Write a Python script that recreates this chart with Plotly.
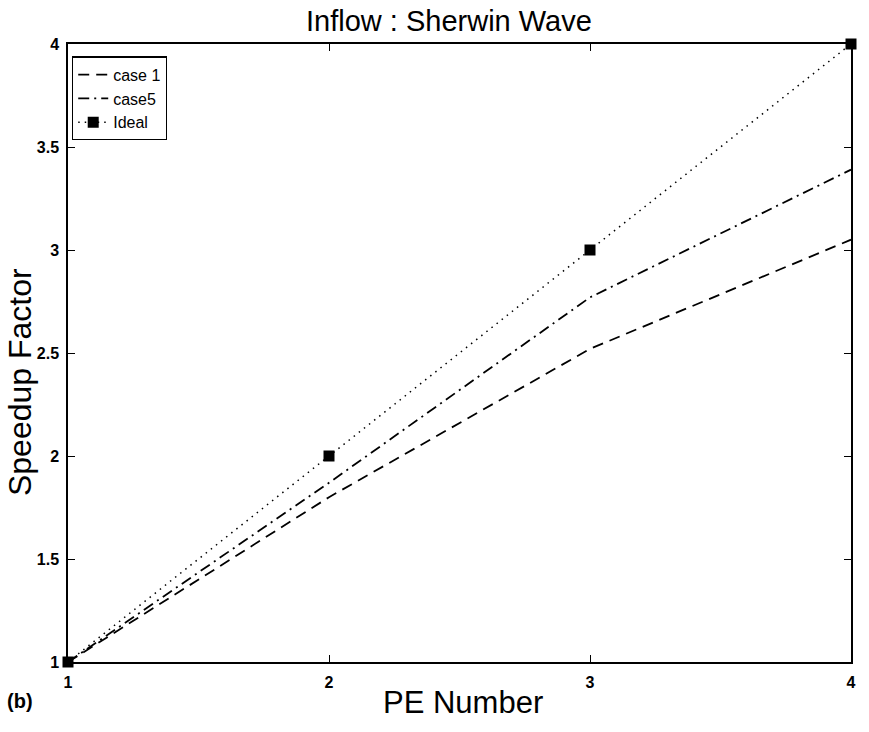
import plotly.graph_objects as go

pe = [1, 2, 3, 4]
case1 = [1.0, 1.80, 2.52, 3.05]
case5 = [1.0, 1.87, 2.77, 3.39]
ideal = [1, 2, 3, 4]

x_ticks = [1, 2, 3, 4]
y_ticks = [1, 1.5, 2, 2.5, 3, 3.5, 4]
y_ticktext = ["1", "1.5", "2", "2.5", "3", "3.5", "4"]

FONT = "Liberation Sans, Arial, Helvetica, sans-serif"

fig = go.Figure()
fig.add_trace(go.Scatter(x=pe, y=case1, mode="lines", name="case 1",
                         line=dict(color="black", width=1.8, dash="11px,7px")))
fig.add_trace(go.Scatter(x=pe, y=case5, mode="lines", name="case5",
                         line=dict(color="black", width=1.8, dash="11px,5px,2px,5px")))
fig.add_trace(go.Scatter(x=pe, y=ideal, mode="lines+markers", name="Ideal",
                         line=dict(color="black", width=1.5, dash="1.5px,5px"),
                         marker=dict(symbol="square", size=11, color="black"),
                         cliponaxis=False))

axis_common = dict(
    showgrid=False, zeroline=False, showline=True, linecolor="black", linewidth=1.5,
    mirror="ticks", ticks="inside", ticklen=7, tickwidth=1.2, tickcolor="black",
    tickfont=dict(family=FONT, size=16, color="black", weight="bold"),
)

fig.update_layout(
    width=869, height=732,
    margin=dict(l=68, r=18, t=44, b=70),
    paper_bgcolor="white", plot_bgcolor="white",
    showlegend=True,
    legend=dict(x=0.005, y=0.98, xanchor="left", yanchor="top",
                bordercolor="black", borderwidth=1.3, bgcolor="white",
                font=dict(family=FONT, size=16, color="black"),
                tracegroupgap=0, itemwidth=30),
    xaxis=dict(range=[1, 4], tickvals=x_ticks, ticktext=[str(v) for v in x_ticks],
               ticklabelstandoff=5, **axis_common),
    yaxis=dict(range=[1, 4], tickvals=y_ticks, ticktext=y_ticktext,
               ticklabelstandoff=4, **axis_common),
    annotations=[
        dict(text="Inflow : Sherwin Wave", xref="paper", yref="paper",
             x=0.4866, y=1 + 23 / 618, xanchor="center", yanchor="middle",
             showarrow=False, font=dict(family=FONT, size=29, color="black")),
        dict(text="PE Number", xref="paper", yref="paper",
             x=0.5045, y=-0.066, xanchor="center", yanchor="middle",
             showarrow=False, font=dict(family=FONT, size=31, color="black")),
        dict(text="Speedup Factor", xref="paper", yref="paper",
             x=(20 - 68) / 783, y=0.453, xanchor="center", yanchor="middle", textangle=-90,
             showarrow=False, font=dict(family=FONT, size=32, color="black")),
        dict(text="<b>(b)</b>", xref="paper", yref="paper",
             x=(20 - 68) / 783, y=1 - (701 - 44) / 618, xanchor="center", yanchor="middle",
             showarrow=False, font=dict(family=FONT, size=20, color="black")),
    ],
)

fig.write_html("out.html")
